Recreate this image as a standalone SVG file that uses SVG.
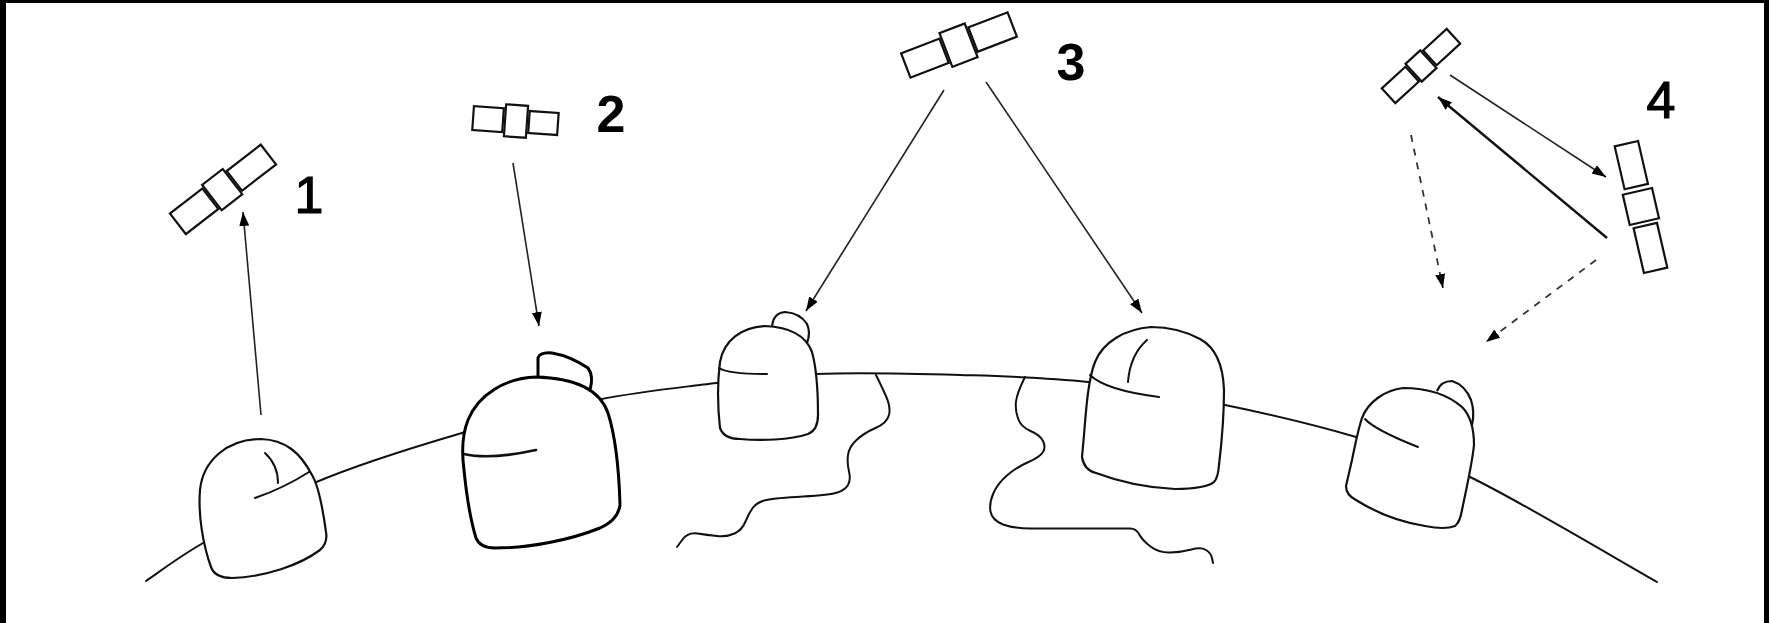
<svg xmlns="http://www.w3.org/2000/svg" width="1769" height="623" viewBox="0 0 1769 623">
  <style>
    .ground { fill: none; stroke: #111; stroke-width: 2; stroke-linecap: round; }
    .coast { fill: none; stroke: #111; stroke-width: 2; stroke-linecap: round; stroke-linejoin: round; }
    .dome { fill: #fff; stroke: #111; stroke-width: 2.2; stroke-linejoin: round; }
    .dome-thick { fill: #fff; stroke: #000; stroke-width: 3; stroke-linejoin: round; }
    .detail { fill: none; stroke: #111; stroke-width: 2; stroke-linecap: round; }
    .sat rect { fill: #fff; stroke: #111; stroke-width: 2.2; }
    .link { fill: none; stroke: #222; stroke-width: 1.6; }
    .link-bold { fill: none; stroke: #111; stroke-width: 2.4; }
    .dash { fill: none; stroke: #333; stroke-width: 1.8; stroke-dasharray: 7 7; }
    .num { font-family: "Liberation Sans", Arial, sans-serif; font-size: 52px; fill: #000; text-anchor: middle; }
    .num-med { stroke: #000; stroke-width: 1.2; }
  </style>
  <defs>
    <marker id="head" markerUnits="userSpaceOnUse" markerWidth="16" markerHeight="12" refX="14" refY="5" orient="auto">
      <path d="M0,0 L14,5 L0,10 Z" fill="#000"/>
    </marker>
  </defs>

  <rect width="1769" height="623" fill="#fff"/>
  <!-- frame -->
  <rect x="0" y="0" width="1769" height="3" fill="#000"/>
  <rect x="0" y="0" width="6" height="623" fill="#000"/>
  <rect x="1764" y="0" width="5" height="623" fill="#000"/>

  <!-- earth surface -->
  <g id="earth">
    <path class="ground" d="M146,581 C155.5,574.7 175,559.3 203,543 C231,526.7 270.8,501.3 314,483 C357.2,464.7 414.8,446.8 462,433 C509.2,419.2 557.3,408 597,400 C636.7,392 663.5,389.3 700,385 C736.5,380.7 772.7,375.7 816,374 C859.3,372.3 914.7,373.7 960,375 C1005.3,376.3 1043.8,377 1088,382 C1132.2,387 1180.3,395.8 1225,405 C1269.7,414.2 1315.2,425 1356,437 C1396.8,449 1419.8,452.8 1470,477 C1520.2,501.2 1625.8,564.5 1657,582"/>
    <path class="coast" d="M876,375 Q880,383 885.5,395 Q891,407 889,415 Q887,423 875.5,428 Q864,433 856.5,440 Q849,447 848,455 Q847,463 849,471.5 Q851,480 848,485 Q845,490 837.5,492.5 Q830,495 803,496.5 Q776,498 766.5,500 Q757,502 753,507.5 Q749,513 745.5,521.5 Q742,530 734.5,533.5 Q727,537 717,536 Q707,535 697.5,533.5 Q688,532 682.5,539.5 L677,547"/>
    <path class="coast" d="M1025,377 Q1017,393 1016,401.5 Q1015,410 1018,418.5 Q1021,427 1030.5,431 Q1040,435 1043,441 Q1046,447 1043,452 Q1040,457 1028.5,462 Q1017,467 1007.5,475 Q998,483 993.5,493 Q989,503 990.5,511.5 Q992,520 1003,524.5 Q1014,528.5 1030,528.5 L1130,528.5 Q1136,528.5 1139,534 Q1142,540 1150.5,546.5 Q1159,553 1170.5,552.5 Q1182,552 1191.5,549.5 Q1201,547 1206,550 Q1211,553 1212,558 L1213,563"/>
  </g>

  <!-- ground stations -->
  <g id="station-1">
    <path class="dome" d="M261,439 C228,439 203,460 200,490 C198,515 203,545 211,567 Q215,578 232,578 C265,577 300,565 320,550 Q328,543 326,532 C323,510 318,485 312,475 C300,452 285,440 261,439 Z"/>
    <path class="detail" d="M265,453 Q278,465 278,483"/>
    <path class="detail" d="M255,498 Q284,488 309,472"/>
  </g>
  <g id="station-2">
    <path class="dome-thick" d="M538,377 L538,358 Q540,352 552,353 Q570,356 588,368 Q594,376 590,390"/>
    <path class="dome-thick" d="M536,377 C505,378 478,395 468,420 C462,435 462,455 464,470 C467,500 472,525 476,538 Q480,548 495,548 C530,548 570,540 600,528 Q618,520 620,505 C619,470 615,435 608,413 C600,390 575,378 536,377 Z"/>
    <path class="detail" style="stroke-width:2.6" d="M464,454 Q490,460 536,450"/>
  </g>
  <g id="station-3">
    <path class="dome" d="M772,327 Q773,313 785,312 Q800,313 807,324 Q811,333 807,343"/>
    <path class="dome" d="M765,326 C742,327 724,340 720,362 C717,385 718,410 720,428 Q724,439 740,439 C760,441 790,440 808,434 Q818,430 818,415 C818,395 817,370 812,352 C806,336 790,327 765,326 Z"/>
    <path class="detail" d="M719,368 Q728,374 767,374"/>
  </g>
  <g id="station-4">
    <path class="dome" d="M1151,327 C1125,329 1103,342 1095,362 C1088,380 1086,410 1084,435 L1082,457 Q1084,470 1096,473 C1120,482 1150,488 1175,489 C1195,489 1210,486 1214,482 Q1218,478 1219,465 C1222,440 1224,410 1224,390 C1223,362 1213,346 1200,339 C1185,331 1168,327 1151,327 Z"/>
    <path class="detail" d="M1147,340 Q1130,355 1128,382"/>
    <path class="detail" d="M1090,375 Q1105,390 1159,397"/>
  </g>
  <g id="station-5">
    <path class="dome" d="M1437,391 Q1441,381 1452,381 Q1465,385 1471,400 Q1475,412 1472,425"/>
    <path class="dome" d="M1403,388 C1385,390 1368,402 1362,418 C1358,430 1355,445 1352,460 L1346,486 Q1346,495 1356,500 C1375,512 1400,522 1425,526 Q1445,530 1455,526 Q1460,522 1462,510 C1466,490 1472,465 1474,445 C1474,428 1470,415 1462,407 C1448,395 1428,388 1403,388 Z"/>
    <path class="detail" d="M1365,419 Q1375,430 1418,447"/>
  </g>

  <!-- satellites -->
  <g id="sat-1" class="sat" transform="translate(223,189) rotate(-37.7)">
    <rect x="-57" y="-13" width="41" height="26"/>
    <rect x="-14" y="-16" width="26" height="32"/>
    <rect x="14" y="-12" width="43" height="25"/>
  </g>
  <g id="sat-2" class="sat" transform="translate(515,121) rotate(4)">
    <rect x="-42" y="-12" width="30" height="24"/>
    <rect x="-10" y="-16" width="22" height="32"/>
    <rect x="14" y="-11" width="29" height="22"/>
  </g>
  <g id="sat-3" class="sat" transform="translate(959,45) rotate(-21)">
    <rect x="-57" y="-13" width="41" height="26"/>
    <rect x="-14" y="-18" width="27" height="36"/>
    <rect x="15" y="-13" width="42" height="26"/>
  </g>
  <g id="sat-4a" class="sat" transform="translate(1421,66) rotate(-42.5)">
    <rect x="-44" y="-10" width="32" height="20"/>
    <rect x="-10" y="-12" width="20" height="24"/>
    <rect x="12" y="-10" width="32" height="20"/>
  </g>
  <g id="sat-4b" class="sat" transform="translate(1641,207) rotate(77)">
    <rect x="-65" y="-12" width="44" height="24"/>
    <rect x="-16" y="-15" width="31" height="30"/>
    <rect x="19" y="-12" width="46" height="24"/>
  </g>

  <!-- links -->
  <g id="connectors">
    <path class="link" d="M261,415 L243,212" marker-end="url(#head)"/>
    <path class="link" d="M513,163 L539,326" marker-end="url(#head)"/>
    <path class="link" d="M944,90 L806,311" marker-end="url(#head)"/>
    <path class="link" d="M986,82 L1142,313" marker-end="url(#head)"/>
    <path class="link" d="M1450,75 L1606,177" marker-end="url(#head)"/>
    <path class="link-bold" d="M1607,238 L1438,97" marker-end="url(#head)"/>
    <path class="dash" d="M1411,135 L1443,288" marker-end="url(#head)"/>
    <path class="dash" d="M1596,260 L1486,342" marker-end="url(#head)"/>
  </g>

  <!-- scenario numbers -->
  <g id="labels">
    <text class="num num-med" x="309" y="213">1</text>
    <text class="num" x="611" y="132" font-weight="bold">2</text>
    <text class="num" x="1071" y="80" font-weight="bold">3</text>
    <text class="num num-med" x="1661" y="118">4</text>
  </g>
</svg>
